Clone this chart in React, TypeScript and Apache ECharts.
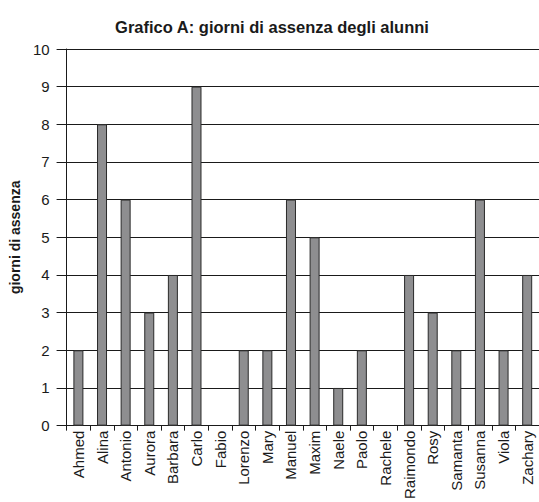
import React, { useEffect, useRef } from "react";
import * as echarts from "echarts";

const categories = ["Ahmed", "Alina", "Antonio", "Aurora", "Barbara", "Carlo", "Fabio", "Lorenzo", "Mary", "Manuel", "Maxim", "Naele", "Paolo", "Rachele", "Raimondo", "Rosy", "Samanta", "Susanna", "Viola", "Zachary"];
const absences = [2, 8, 6, 3, 4, 9, 0, 2, 2, 6, 5, 1, 2, 0, 4, 3, 2, 6, 2, 4];
const titleText = "Grafico A: giorni di assenza degli alunni";
const yAxisName = "giorni di assenza";

const FONT = "'Liberation Sans', Arial, Helvetica, sans-serif";

export default function App() {
  const ref = useRef<HTMLDivElement>(null);
  useEffect(() => {
    if (!ref.current) return;
    const chart = echarts.init(ref.current, null, { renderer: "svg" });
    chart.setOption({
      animation: false,
      backgroundColor: "#ffffff",
      title: {
        text: titleText,
        left: 267,
        top: 13,
        textAlign: "center",
        textStyle: { fontFamily: FONT, fontSize: 16.5, fontWeight: "bold", color: "#1a1a1a" },
      },
      grid: { left: 60, right: -1, top: 49, bottom: 75, containLabel: false },
      xAxis: {
        type: "category",
        data: categories,
        axisLine: { lineStyle: { color: "#1a1a1a", width: 1 } },
        axisTick: { show: true, alignWithLabel: false, length: 5, lineStyle: { color: "#1a1a1a" } },
        axisLabel: {
          rotate: 90,
          interval: 0,
          margin: 5,
          fontFamily: FONT,
          fontSize: 15,
          color: "#1a1a1a",
        },
      },
      yAxis: {
        type: "value",
        min: 0,
        max: 10,
        interval: 1,
        name: yAxisName,
        nameLocation: "middle",
        nameGap: 36,
        nameRotate: 90,
        nameTextStyle: { fontFamily: FONT, fontSize: 14, fontWeight: "bold", color: "#1a1a1a" },
        axisLine: { show: true, lineStyle: { color: "#1a1a1a", width: 1 } },
        axisTick: { show: true, length: 10, lineStyle: { color: "#1a1a1a" } },
        axisLabel: { fontFamily: FONT, fontSize: 15, color: "#1a1a1a", margin: 17 },
        splitLine: { show: true, lineStyle: { color: "#1a1a1a", width: 1 } },
      },
      series: [
        {
          type: "bar",
          data: absences.map((v) => (v === 0 ? { value: v, itemStyle: { borderWidth: 0 } } : v)),
          barWidth: 10,
          itemStyle: { color: "#8e8e90", borderColor: "#2a2a2a", borderWidth: 1 },
        },
      ],
    });
    return () => chart.dispose();
  }, []);
  return (
    <div
      ref={ref}
      style={{ position: "fixed", left: 0, top: 0, width: 539, height: 502 }}
    />
  );
}
